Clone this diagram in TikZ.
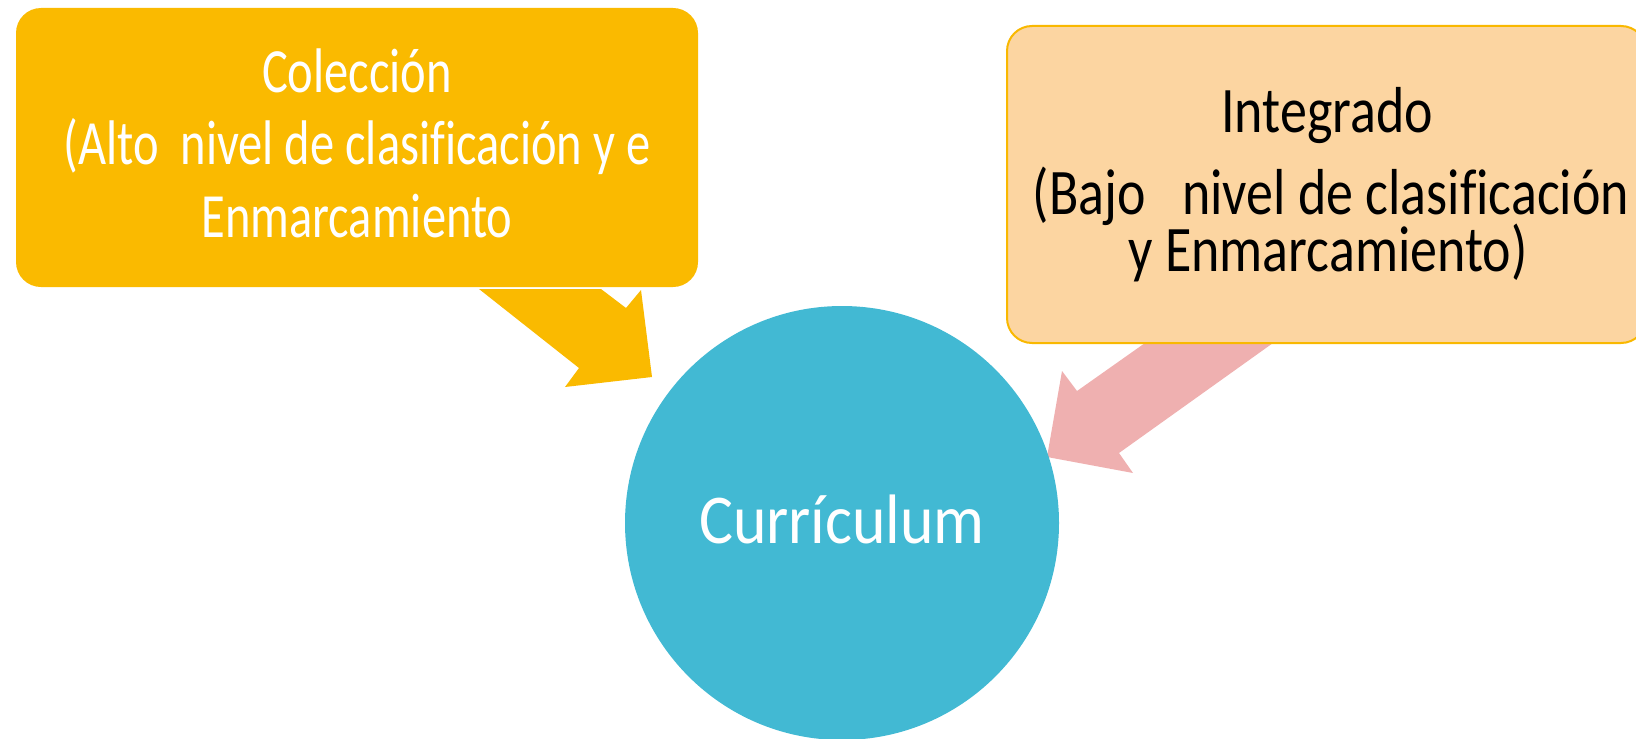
\documentclass[tikz,border=0pt]{standalone}
\usepackage{fontspec}
\setmainfont{Carlito}
\newfontfamily\lftfont[FakeStretch=0.77,Ligatures=NoCommon]{Carlito}
\newfontfamily\rgtfont[FakeStretch=0.83,Ligatures=NoCommon]{Carlito}
\newfontfamily\ctrfont[FakeStretch=0.91,Ligatures=NoCommon]{Carlito}
\definecolor{colyellow}{RGB}{250,186,0}
\definecolor{colteal}{RGB}{66,185,211}
\definecolor{colpink}{RGB}{239,176,176}
\definecolor{colpeach}{RGB}{252,213,161}
\definecolor{colborder}{RGB}{249,184,0}
\tikzset{
  leftbox/.style={rectangle, rounded corners=12.5pt, fill=colyellow, inner sep=0pt,
    minimum width=341pt, minimum height=139.5pt},
  rightbox/.style={rectangle, rounded corners=12.5pt, fill=colpeach, draw=colborder,
    line width=1pt, inner sep=0pt, minimum width=319.5pt, minimum height=158.5pt},
  hubcircle/.style={circle, fill=colteal, inner sep=0pt, minimum size=217pt,
    text=white, font=\ctrfont\fontsize{35}{40}\selectfont, text height=20pt, text depth=0pt},
  lefttext/.style={anchor=base, inner sep=0pt, text=white, text height=20pt, text depth=6pt,
    font=\lftfont\fontsize{31.5}{36}\selectfont},
  righttext/.style={anchor=base, inner sep=0pt, text=black, text height=20pt, text depth=6pt,
    font=\rgtfont\fontsize{32.5}{38}\selectfont},
  yellowarrow/.style={fill=colyellow},
  pinkarrow/.style={fill=colpink}
}
\begin{document}
\begin{tikzpicture}[x=0.5pt,y=-0.5pt]
\useasboundingbox (0,0) rectangle (1636,738);
\clip (0,0) rectangle (1636,738);
% block arrows
\fill[yellowarrow] (479,289) -- (601,289) -- (626,308) -- (641,290) -- (652,377)
  -- (565,387) -- (579,368) -- cycle;
\fill[pinkarrow] (1145,343) -- (1273,343) -- (1119,453) -- (1133,473) -- (1047,457)
  -- (1062,371) -- (1077,391) -- cycle;
% boxes
\node[leftbox] (colbox) at (357,147.5) {};
\node[rightbox] (intbox) at (1326.5,184.5) {};
\node[hubcircle] (curr) at (842,523) {Currículum};
% texts
\node[lefttext] (l1) at (357,92) {Colección};
\node[lefttext] (l2) at (357,164) {(Alto\ \ nivel de clasificación y e};
\node[lefttext] (l3) at (357,237) {Enmarcamiento};
\node[righttext] (r1) at (1327,133) {Integrado};
\node[righttext] (r2) at (1331,214) {(Bajo\ \ \ nivel de clasificación};
\node[righttext] (r3) at (1328,271) {y Enmarcamiento)};
\end{tikzpicture}
\end{document}
